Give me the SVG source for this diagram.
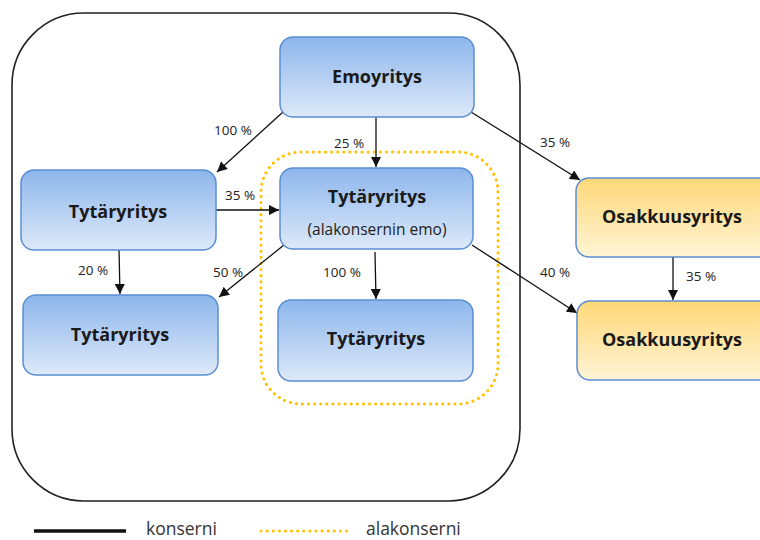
<svg xmlns="http://www.w3.org/2000/svg" width="760" height="540" viewBox="0 0 760 540">
  <defs>
    <linearGradient id="gBlue" x1="0" y1="0" x2="0" y2="1">
      <stop offset="0" stop-color="#8DB6EC"/>
      <stop offset="1" stop-color="#DDE9F9"/>
    </linearGradient>
    <linearGradient id="gGold" x1="0" y1="0" x2="0" y2="1">
      <stop offset="0" stop-color="#FFD877"/>
      <stop offset="1" stop-color="#FFF4D6"/>
    </linearGradient>
    <marker id="arrow" viewBox="0 0 10 10" refX="10" refY="5" markerWidth="11" markerHeight="10" markerUnits="userSpaceOnUse" orient="auto">
      <path d="M0,0 L10,5 L0,10 z" fill="#111"/>
    </marker>
    <style>
      .blue { fill: url(#gBlue); stroke: #5B8FD2; stroke-width: 1.5; }
      .gold { fill: url(#gGold); stroke: #5B8FD2; stroke-width: 1.5; }
      .title { font-family: "Open Sans", "Liberation Sans", sans-serif; font-weight: 700; font-size: 18px; fill: #1a1a1a; text-anchor: middle; }
      .sub { font-family: "Open Sans", "Liberation Sans", sans-serif; font-size: 15.5px; fill: #222; text-anchor: middle; }
      .pct { font-family: "Open Sans", "Liberation Sans", sans-serif; font-size: 13.5px; fill: #222; text-anchor: middle; }
      .edge { stroke: #111; stroke-width: 1.3; fill: none; marker-end: url(#arrow); }
      .legend { font-family: "Open Sans", "Liberation Sans", sans-serif; font-size: 17.5px; fill: #333; }
      .dotted { stroke: #FFC000; stroke-width: 3; stroke-linecap: round; stroke-dasharray: 0.1 6; fill: none; }
    </style>
  </defs>

  <rect width="760" height="540" fill="#fff"/>

  <!-- group boundary (konserni) -->
  <rect x="12" y="13" width="508" height="488" rx="72" ry="72" fill="none" stroke="#222" stroke-width="1.6"/>

  <!-- sub-group boundary (alakonserni) -->
  <rect x="261" y="152" width="237" height="252" rx="40" ry="40" class="dotted"/>

  <!-- connectors -->
  <g id="connectors">
    <line class="edge" x1="283" y1="112" x2="217" y2="172"/>
    <line class="edge" x1="376" y1="113" x2="376" y2="167"/>
    <line class="edge" x1="471" y1="112" x2="580" y2="180"/>
    <line class="edge" x1="216" y1="210" x2="279" y2="210"/>
    <line class="edge" x1="119" y1="250" x2="120" y2="294"/>
    <line class="edge" x1="284" y1="245" x2="219" y2="297"/>
    <line class="edge" x1="375" y1="252" x2="376" y2="299"/>
    <line class="edge" x1="472" y1="245" x2="577" y2="313"/>
    <line class="edge" x1="673" y1="257" x2="673" y2="300"/>

    <text class="pct" x="233" y="135">100 %</text>
    <text class="pct" x="349" y="148">25 %</text>
    <text class="pct" x="555" y="147">35 %</text>
    <text class="pct" x="240" y="200">35 %</text>
    <text class="pct" x="93" y="275">20 %</text>
    <text class="pct" x="228" y="277">50 %</text>
    <text class="pct" x="342" y="277">100 %</text>
    <text class="pct" x="555" y="277">40 %</text>
    <text class="pct" x="701" y="281">35 %</text>
  </g>

  <!-- nodes -->
  <g id="emoyritys">
    <rect class="blue" x="280" y="37" width="194" height="80" rx="13"/>
    <text class="title" x="377" y="83">Emoyritys</text>
  </g>
  <g id="tytar-a">
    <rect class="blue" x="21" y="170" width="195" height="80" rx="13"/>
    <text class="title" x="118" y="218">Tytäryritys</text>
  </g>
  <g id="tytar-emo">
    <rect class="blue" x="280" y="168" width="193" height="81" rx="13"/>
    <text class="title" x="377" y="203">Tytäryritys</text>
    <text class="sub" x="377" y="235">(alakonsernin emo)</text>
  </g>
  <g id="tytar-b">
    <rect class="blue" x="23" y="295" width="195" height="80" rx="13"/>
    <text class="title" x="120" y="341">Tytäryritys</text>
  </g>
  <g id="tytar-c">
    <rect class="blue" x="278" y="300" width="195" height="81" rx="13"/>
    <text class="title" x="376" y="345">Tytäryritys</text>
  </g>
  <g id="osakkuus-a">
    <rect class="gold" x="576" y="178" width="200" height="79" rx="13"/>
    <text class="title" x="672" y="223">Osakkuusyritys</text>
  </g>
  <g id="osakkuus-b">
    <rect class="gold" x="577" y="301" width="200" height="79" rx="13"/>
    <text class="title" x="672" y="346">Osakkuusyritys</text>
  </g>

  <!-- legend -->
  <g id="legend">
    <line x1="34" y1="531" x2="126" y2="531" stroke="#111" stroke-width="3.5"/>
    <text class="legend" x="146" y="535">konserni</text>
    <line x1="261" y1="531" x2="347" y2="531" class="dotted"/>
    <text class="legend" x="366" y="535">alakonserni</text>
  </g>
</svg>
